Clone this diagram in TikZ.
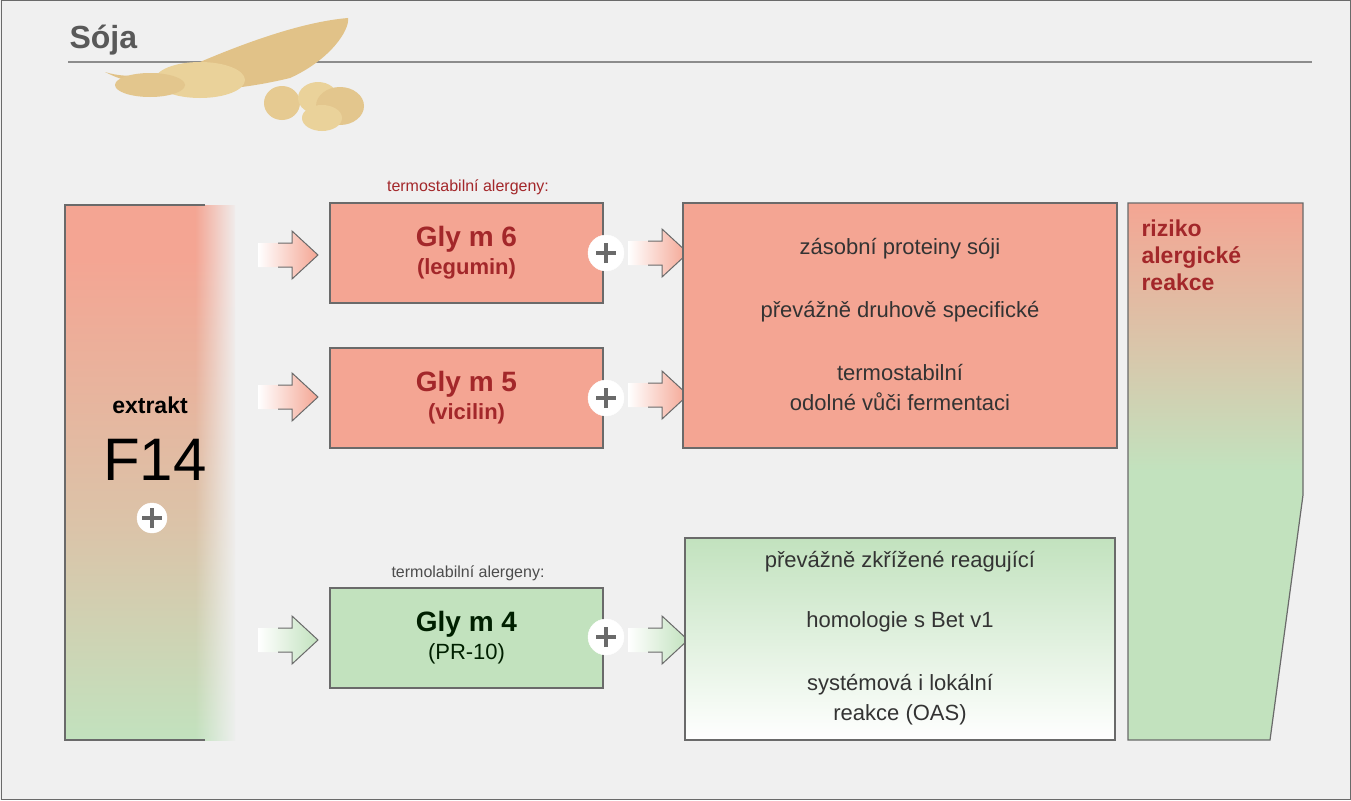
\documentclass[tikz,border=0pt]{standalone}
\usepackage{fontspec}
\setmainfont{Liberation Sans}
\usetikzlibrary{fadings}
\definecolor{sal}{HTML}{F4A593}
\definecolor{grn}{HTML}{C2E2BE}
\definecolor{dred}{HTML}{A3272A}
\definecolor{bord}{HTML}{6A6A6A}
\definecolor{bg}{HTML}{F0F0F0}
\definecolor{bean}{HTML}{EAD29A}
\pgfdeclareverticalshading{leftsh}{100bp}{color(0bp)=(white!30!grn); color(25bp)=(grn); color(45bp)=(sal!50!grn); color(70bp)=(sal); color(100bp)=(sal)}
\pgfdeclareverticalshading{risksh}{100bp}{color(0bp)=(grn); color(50bp)=(grn); color(75bp)=(sal); color(100bp)=(sal)}
\tikzset{
 box/.style={draw=bord,line width=1.2pt},
 gly/.style={font=\bfseries\fontsize{28}{30}\selectfont,text=dred,align=center},
 txt/.style={font=\fontsize{22}{30}\selectfont,text=black!80,align=center},
 lab/.style={font=\fontsize{16}{18}\selectfont},
 plus/.style={circle,fill=white,draw=white,minimum size=36pt,inner sep=0pt,
   path picture={\draw[bord,line width=4pt] ([xshift=-10pt]path picture bounding box.center)--([xshift=10pt]path picture bounding box.center);
   \draw[bord,line width=4pt] ([yshift=-10pt]path picture bounding box.center)--([yshift=10pt]path picture bounding box.center);}}
}
\newcommand{\fatarrow}[3]{% x, y, color
 \shade[left color=white,right color=#3] (#1,#2-12)--(#1+34,#2-12)--(#1+34,#2-24)--(#1+60,#2)--(#1+34,#2+24)--(#1+34,#2+12)--(#1,#2+12)--cycle;
 \draw[bord,line width=1pt] (#1+20,#2-12)--(#1+34,#2-12)--(#1+34,#2-24)--(#1+60,#2)--(#1+34,#2+24)--(#1+34,#2+12)--(#1+20,#2+12);}
\begin{document}
\begin{tikzpicture}[x=1pt,y=-1pt]
\useasboundingbox (0,0) rectangle (1351,800);
\fill[bg] (0,0) rectangle (1351,800);
\draw[bord,line width=1pt] (1,1) rectangle (1350,799);
% title
\node[anchor=west,font=\bfseries\fontsize{32}{34}\selectfont,text=black!65] (title) at (66,40) {Sója};
\draw[black!45,line width=1.5pt] (68,62)--(1312,62);
% soy pod
\fill[bean!80!brown] (105,72) .. controls (150,95) and (220,95) .. (290,78) .. controls (330,60) and (350,30) .. (348,18) .. controls (300,22) and (240,45) .. (200,62) .. controls (160,75) and (130,80) .. (105,72) -- cycle;
\fill[bean] (200,80) ellipse (45 and 18);
\fill[bean!85!brown] (150,85) ellipse (35 and 12);
\fill[bean!90!brown] (282,103) ellipse (18 and 17);
\fill[bean] (318,98) ellipse (20 and 16);
\fill[bean!85!brown] (340,106) ellipse (24 and 19);
\fill[bean] (322,118) ellipse (20 and 13);
% left box
\shade[shading=leftsh] (65,205) rectangle (235,740);
\fill[bg,path fading=west] (195,204) rectangle (237,741);
\draw[bord,line width=1.2pt] (205,205)--(65,205)--(65,740)--(205,740);
\node[font=\bfseries\fontsize{23}{24}\selectfont] (ex) at (150,405) {extrakt};
\node[font=\fontsize{60}{62}\selectfont] (f14) at (155,460) {F14};
\node[plus,minimum size=30pt,fill=white] (p0) at (152,518) {};
% labels
\node[lab,text=dred] (l1) at (468,187) {termostabilní alergeny:};
\node[lab,text=black!70] (l2) at (468,573) {termolabilní alergeny:};
% gly boxes
\node[box,fill=sal,minimum width=273pt,minimum height=100pt,gly] (g6) at (466.5,253) {Gly m 6\\[-2pt]{\fontsize{22}{24}\selectfont(legumin)}};
\node[box,fill=sal,minimum width=273pt,minimum height=100pt,gly] (g5) at (466.5,398) {Gly m 5\\[-2pt]{\fontsize{22}{24}\selectfont(vicilin)}};
\node[box,fill=grn,minimum width=273pt,minimum height=100pt,gly,text=black!70!green!40!black] (g4) at (466.5,638) {Gly m 4\\[-2pt]{\fontsize{22}{24}\selectfont\mdseries(PR-10)}};
% arrows
\fatarrow{258}{255}{sal}
\fatarrow{258}{397}{sal}
\fatarrow{258}{640}{grn}
\fatarrow{628}{253}{sal}
\fatarrow{628}{395}{sal}
\fatarrow{628}{640}{grn}
\node[plus] (p1) at (606,253) {};
\node[plus] (p2) at (606,398) {};
\node[plus] (p3) at (606,637) {};
% big red box
\node[box,fill=sal,minimum width=434pt,minimum height=245pt] (rb) at (900,325.5) {};
\node[txt] (t1) at (900,249) {zásobní proteiny sóji};
\node[txt] (t2) at (900,312) {převážně druhově specifické};
\node[txt] (t3) at (900,388) {termostabilní\\odolné vůči fermentaci};
% green box
\shade[top color=grn,bottom color=white] (685,538) rectangle (1115,740);
\draw[box] (685,538) rectangle (1115,740);
\node[txt] (t4) at (900,562) {převážně zkřížené reagující};
\node[txt] (t5) at (900,622) {homologie s Bet v1};
\node[txt] (t6) at (900,700) {systémová i lokální\\reakce (OAS)};
% risk shape
\shade[shading=risksh] (1128,203)--(1303,203)--(1303,495)--(1270,740)--(1128,740)--cycle;
\draw[box] (1128,203)--(1303,203)--(1303,495)--(1270,740)--(1128,740)--cycle;
\node[anchor=north west,align=left,font=\bfseries\fontsize{23}{27}\selectfont,text=dred] (risk) at (1138,216) {riziko\\alergické\\reakce};
\end{tikzpicture}
\end{document}
